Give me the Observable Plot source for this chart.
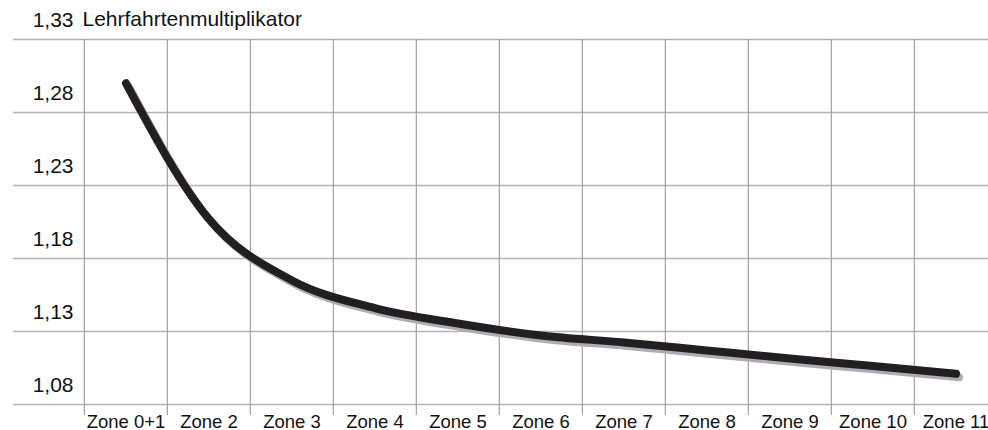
<!DOCTYPE html>
<html>
<head>
<meta charset="utf-8">
<script src="https://cdn.jsdelivr.net/npm/d3@7"></script>
<script src="https://cdn.jsdelivr.net/npm/@observablehq/plot@0.6"></script>
<style>
  html, body { margin: 0; padding: 0; background: #fff; }
  #chart svg { overflow: visible; }
</style>
</head>
<body>
<div id="chart"></div>
<script>
const zones = ["Zone 0+1", "Zone 2", "Zone 3", "Zone 4", "Zone 5", "Zone 6", "Zone 7", "Zone 8", "Zone 9", "Zone 10", "Zone 11"];
const multiplier = [1.300, 1.207, 1.165, 1.146, 1.1355, 1.1273, 1.1225, 1.117, 1.1115, 1.1064, 1.101];
const yTicks = [1.08, 1.13, 1.18, 1.23, 1.28, 1.33];
const yLabel = "Lehrfahrtenmultiplikator";

const data = zones.map((z, i) => ({zone: z, value: multiplier[i]}));
const fmt = v => d3.format(".2f")(v).replace(".", ",");

const W = 988, H = 430;
const xRange = [82, 998.6];
const bw = (xRange[1] - xRange[0]) / zones.length;
const font = "'Liberation Sans', Arial, Helvetica, sans-serif";

const chart = Plot.plot({
  width: W,
  height: H,
  marginTop: 39,
  marginBottom: 26,
  marginLeft: 82,
  marginRight: 0,
  style: {fontFamily: font, background: "#fff", color: "#111"},
  x: {type: "band", domain: zones, range: xRange, padding: 0, align: 0.5},
  y: {domain: [1.08, 1.33]},
  marks: [
    Plot.ruleY(yTicks, {y: d => d, stroke: "#b3b3b3", strokeWidth: 1.3, insetLeft: -69}),
    Plot.ruleX(zones, {x: d => d, dx: -bw / 2, stroke: "#a0a0a0", strokeWidth: 1.2, insetBottom: -11}),
    Plot.line(data, {x: "zone", y: "value", curve: "monotone-x", stroke: "#adadb4", strokeWidth: 8, strokeLinecap: "round", strokeLinejoin: "round", dx: 3, dy: 3.5}),
    Plot.line(data, {x: "zone", y: "value", curve: "monotone-x", stroke: "#231f20", strokeWidth: 8, strokeLinecap: "round", strokeLinejoin: "round"}),
    Plot.text(yTicks, {y: d => d, text: d => fmt(d), frameAnchor: "left", textAnchor: "end", lineAnchor: "bottom", dx: -9, dy: -13, fontSize: 21, fill: "#111"}),
    Plot.text([1.33], {y: d => d, text: () => yLabel, frameAnchor: "left", textAnchor: "start", lineAnchor: "bottom", dx: 0, dy: -14, fontSize: 21, fill: "#111"}),
    Plot.axisX({tickSize: 0, tickPadding: 10, fontSize: 18.5, fill: "#111", label: null}),
    Plot.axisY({ticks: [], label: null})
  ]
});
document.getElementById("chart").appendChild(chart);
</script>
</body>
</html>
